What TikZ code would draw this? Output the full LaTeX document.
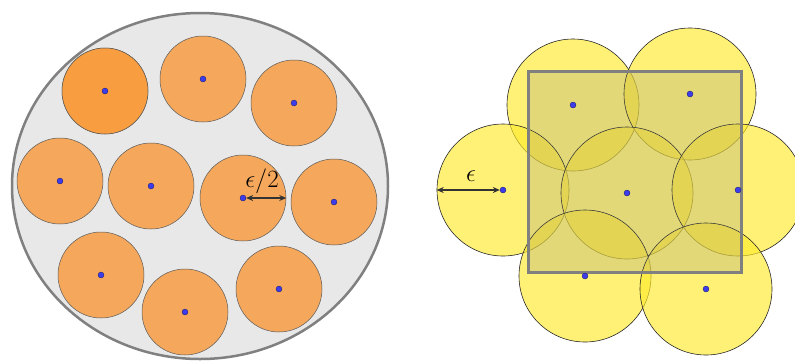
\documentclass[tikz,border=0pt]{standalone}
\usetikzlibrary{arrows.meta,shapes.geometric}
\definecolor{bgray}{RGB}{232,232,232}
\definecolor{rimgray}{RGB}{128,128,128}
\definecolor{orangeA}{RGB}{245,168,92}
\definecolor{orangeB}{RGB}{248,157,64}
\definecolor{yel}{RGB}{255,234,45}
\definecolor{dotblue}{RGB}{60,60,235}
\begin{document}
\begin{tikzpicture}[x=1pt,y=-1pt,
  ball/.style={circle,draw=black!65,line width=0.5pt,fill=orangeA,minimum size=86pt,inner sep=0pt},
  cover/.style={circle,draw=black!85,line width=0.6pt,fill=yel,fill opacity=0.65,minimum size=132pt,inner sep=0pt},
  ctr/.style={circle,fill=dotblue,draw=black!60!dotblue,line width=0.3pt,minimum size=6pt,inner sep=0pt},
  dimarrow/.style={{Stealth[length=7pt,width=6pt]}-{Stealth[length=7pt,width=6pt]},line width=1.2pt,draw=black!80}]
\useasboundingbox (0,0) rectangle (795,360);
% left: big region
\node[ellipse,draw=rimgray,line width=2.5pt,fill=bgray,minimum width=376pt,minimum height=346pt,inner sep=0pt] (big) at (200,186) {};
\foreach \n/\x/\y in {b1/105/91,b2/203/79,b3/294/103,b4/60/181,b5/151/186,b6/243/198,b7/334/202,b8/101/275,b9/185/312,b10/279/289}{
  \node[ball] (\n) at (\x,\y) {};
}
\node[ball,fill=orangeB] at (b1) {};
\foreach \n in {b1,b2,b3,b4,b5,b6,b7,b8,b9,b10}{
  \node[ctr] (\n d) at (\n) {};
}
\draw[dimarrow] (b6d) -- (b6.east);
\node[font=\fontsize{25}{27}\selectfont] (lh) at (262,181) {$\epsilon/2$};
% right: covering
\foreach \n/\x/\y in {cA/573/105,cB/690/94,cC/503/190,cD/627/193,cE/738/190,cF/585/276,cG/706/289}{
  \node[cover] (\n) at (\x,\y) {};
}
\node[draw=rimgray,line width=3pt,fill=rimgray,fill opacity=0.22,minimum width=213pt,minimum height=201pt,inner sep=0pt] (sq) at (634.5,171.5) {};
\foreach \n in {cA,cB,cC,cD,cE,cF,cG}{
  \node[ctr] (\n d) at (\n) {};
}
\draw[dimarrow] (cC.west) -- (cCd);
\node[font=\fontsize{29}{31}\selectfont] (le) at (471,176) {$\epsilon$};
\end{tikzpicture}
\end{document}
